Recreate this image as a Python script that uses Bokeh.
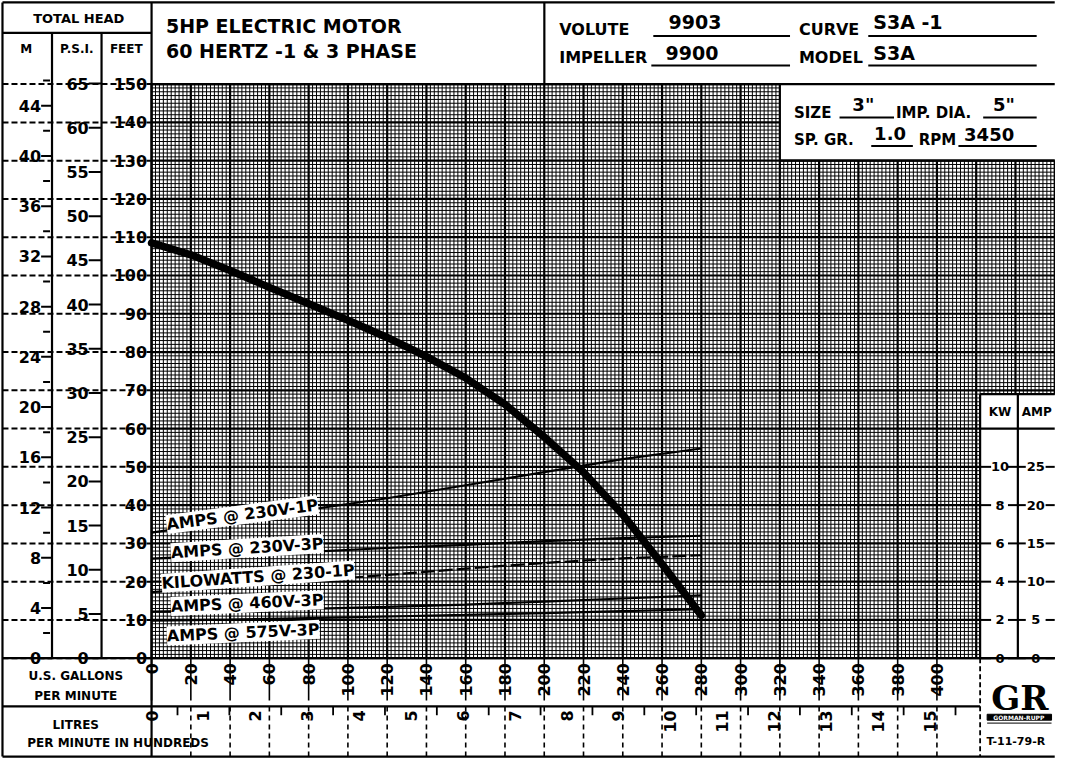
import math
from bokeh.plotting import figure
from bokeh.models import Range1d, ColumnDataSource, Label
from bokeh.core.properties import value
from bokeh.embed import file_html
from bokeh.resources import INLINE

# ---------------- data ----------------
head_gpm = [0, 20, 40, 60, 80, 100, 120, 140, 160, 180, 200, 220, 240, 260, 280]
head_ft = [108.5, 105.4, 101.3, 96.9, 92.6, 88.3, 83.8, 78.8, 73.2, 66.3, 57.8, 48.6, 37.5, 24.6, 11.2]

load_gpm = [0, 40, 80, 120, 160, 200, 240, 280]
amps_230v_1p = [16.4, 17.9, 19.4, 20.9, 22.6, 24.3, 26.0, 27.4]
amps_230v_3p = [13.0, 13.5, 13.9, 14.4, 14.8, 15.3, 15.7, 16.0]
kw_230_1p = [3.45, 3.75, 4.05, 4.35, 4.68, 4.98, 5.22, 5.38]
amps_460v_3p = [6.1, 6.25, 6.45, 6.7, 7.0, 7.4, 7.8, 8.2]
amps_575v_3p = [4.9, 5.05, 5.25, 5.45, 5.65, 5.9, 6.15, 6.4]

feet_ticks = list(range(0, 151, 10))
psi_ticks = list(range(0, 66, 5))
m_ticks = list(range(0, 45, 4))
m_minor_ticks = list(range(2, 47, 4))
gpm_ticks = list(range(0, 401, 20))
lpm_hundreds_ticks = list(range(0, 16))
kw_ticks = [0, 2, 4, 6, 8, 10]
amp_ticks = [0, 5, 10, 15, 20, 25]

FT_PER_PSI = 2.31
FT_PER_M = 1 / 0.3048
GPM_PER_100LPM = 100 / 3.78541
FT_PER_AMP = 2.0
FT_PER_KW = 5.0

INK = "#000000"
FONT = "DejaVu Sans"

# ---------------- page geometry helpers (reference px -> data) ----------------
GX0, GXS = 158.5, 1.982
FY0, FYS = 673.0, 3.893


def X(px):
    return (px - GX0) / GXS


def Y(py):
    return (FY0 - py) / FYS


GPM_MAX = 422      # right edge of the lower grid
GPM_EDGE = 460     # right edge of the page
FT_MAX = 150
BOX_GPM = 320      # left edge of the SIZE box
BOX_FT = 130       # bottom of the SIZE box
KW_TOP = 69
KW_HEAD = 60

p = figure(width=1055, height=758,
           x_range=Range1d(X(6), X(1071)), y_range=Range1d(Y(775), Y(4)),
           output_backend="svg", toolbar_location=None,
           x_axis_type=None, y_axis_type=None, min_border=0,
           outline_line_color=None, background_fill_color="white",
           border_fill_color="white")


def segs(x0, y0, x1, y1, width, dash="solid", color=INK):
    p.segment(x0=list(x0), y0=list(y0), x1=list(x1), y1=list(y1),
              line_width=width, line_color=color, line_dash=dash)


def text(xs, ys, texts, size, align="center", baseline="middle", angle=0.0,
         font=FONT, style="bold", color=INK):
    src = ColumnDataSource(dict(x=list(xs), y=list(ys), t=[str(t) for t in texts]))
    p.text(x="x", y="y", text="t", source=src, text_font=value(font),
           text_font_size=f"{size}px", text_font_style=style, text_align=align,
           text_baseline=baseline, angle=angle, text_color=color)


# ---------------- graph paper ----------------
def top_of(g):
    return FT_MAX if g <= BOX_GPM else BOX_FT


def right_of(f):
    if f < KW_TOP:
        return GPM_MAX
    if f <= BOX_FT:
        return GPM_EDGE
    return BOX_GPM


mx0, my0, mx1, my1 = [], [], [], []
Mx0, My0, Mx1, My1 = [], [], [], []
for g in range(0, GPM_MAX + 1, 2):
    tgt = (Mx0, My0, Mx1, My1) if g % 20 == 0 else (mx0, my0, mx1, my1)
    tgt[0].append(g); tgt[1].append(0); tgt[2].append(g); tgt[3].append(top_of(g))
for g in range(GPM_MAX + 2, GPM_EDGE + 1, 2):
    tgt = (Mx0, My0, Mx1, My1) if g % 20 == 0 else (mx0, my0, mx1, my1)
    tgt[0].append(g); tgt[1].append(KW_TOP); tgt[2].append(g); tgt[3].append(BOX_FT)
for f in range(0, FT_MAX + 1):
    tgt = (Mx0, My0, Mx1, My1) if f % 10 == 0 else (mx0, my0, mx1, my1)
    tgt[0].append(0); tgt[1].append(f); tgt[2].append(right_of(f)); tgt[3].append(f)
segs(mx0, my0, mx1, my1, 1.0)
segs(Mx0, My0, Mx1, My1, 2.2)

# ---------------- frame / boxes ----------------
hx0 = [X(8), X(8), 0, X(8), X(8), X(8), GPM_MAX, BOX_GPM, GPM_MAX, GPM_MAX]
hy0 = [Y(6), Y(37), FT_MAX, 0, Y(722), Y(773), KW_TOP, BOX_FT, KW_HEAD, 0]
hx1 = [GPM_EDGE, 0, GPM_EDGE, GPM_EDGE, GPM_MAX, GPM_EDGE, GPM_EDGE, GPM_EDGE, GPM_EDGE, GPM_EDGE]
segs(hx0, hy0, hx1, hy0, 2.2)
vx = [X(8), X(58), X(108), 0, X(555), GPM_MAX, X(1033)]
vy0 = [Y(6), Y(37), Y(37), Y(6), Y(6), 0, 0]
vy1 = [Y(773), 0, 0, Y(773), FT_MAX, KW_TOP, KW_TOP]
segs(vx, vy0, vx, vy1, 2.2)
# dashed separator under the logo column
segs([GPM_MAX], [0], [GPM_MAX], [Y(773)], 1.8, dash="5 3")

# ---------------- left scales ----------------
segs([X(8)] * len(feet_ticks), feet_ticks, [0] * len(feet_ticks), feet_ticks, 2.0, dash="6 3")

m_ft = [m * FT_PER_M for m in m_ticks]
segs([X(47)] * len(m_ft), m_ft, [X(58)] * len(m_ft), m_ft, 2.0)
mm_ft = [m * FT_PER_M for m in m_minor_ticks]
segs([X(49)] * len(mm_ft), mm_ft, [X(56)] * len(mm_ft), mm_ft, 2.0)
text([X(47)] * len(m_ft), m_ft, m_ticks, 16, align="right")

psi_ft = [s * FT_PER_PSI for s in psi_ticks]
segs([X(95)] * len(psi_ft), psi_ft, [X(108)] * len(psi_ft), psi_ft, 2.0)
text([X(95)] * len(psi_ft), psi_ft, psi_ticks, 16, align="right")

text([X(154)] * len(feet_ticks), feet_ticks, feet_ticks, 16, align="right")

text([X(85)], [Y(22)], ["TOTAL HEAD"], 13)
text([X(32), X(83), X(133)], [Y(53)] * 3, ["M", "P.S.I.", "FEET"], 12)

# ---------------- bottom scales ----------------
segs(gpm_ticks, [0] * len(gpm_ticks), gpm_ticks, [Y(716)] * len(gpm_ticks), 1.6)
text(gpm_ticks, [Y(678)] * len(gpm_ticks), gpm_ticks, 16, align="right", angle=math.pi / 2)

dash_x = [g for g in gpm_ticks if g > 0]
segs(dash_x, [Y(722)] * len(dash_x), dash_x, [Y(773)] * len(dash_x), 1.6, dash="5 4")
lpm_x = [h * GPM_PER_100LPM for h in lpm_hundreds_ticks]
half_x = [(h + 0.5) * GPM_PER_100LPM for h in lpm_hundreds_ticks]
segs(half_x, [Y(722)] * len(half_x), half_x, [Y(731)] * len(half_x), 1.8)
text(lpm_x, [Y(726)] * len(lpm_x), lpm_hundreds_ticks, 16, align="right", angle=math.pi / 2)

text([X(82), X(82)], [Y(691), Y(711)], ["U.S. GALLONS", "PER MINUTE"], 12)
text([X(82)], [Y(741)], ["LITRES"], 12)
text([X(33)], [Y(759)], ["PER MINUTE IN HUNDREDS"], 12, align="left")

# ---------------- right scales (KW / AMP) ----------------
kw_ft = [k * FT_PER_KW for k in kw_ticks]
amp_ft = [a * FT_PER_AMP for a in amp_ticks]
segs([GPM_MAX] * len(kw_ft), kw_ft, [X(1006)] * len(kw_ft), kw_ft, 2.0)
segs([X(1023)] * len(kw_ft), kw_ft, [X(1033)] * len(kw_ft), kw_ft, 2.0)
segs([X(1033)] * len(amp_ft), amp_ft, [X(1041)] * len(amp_ft), amp_ft, 2.0)
segs([X(1061)] * len(amp_ft), amp_ft, [GPM_EDGE] * len(amp_ft), amp_ft, 2.0)
text([X(1015)] * len(kw_ft), kw_ft, kw_ticks, 13)
text([X(1051)] * len(amp_ft), amp_ft, amp_ticks, 13)
text([X(1015), X(1052)], [Y(423)] * 2, ["KW", "AMP"], 12)

# ---------------- header texts ----------------
text([X(173), X(173)], [Y(30), Y(55)], ["5HP ELECTRIC MOTOR", "60 HERTZ -1 & 3 PHASE"], 19, align="left")

text([X(570), X(812), X(570), X(812)], [Y(33), Y(33), Y(62), Y(62)],
     ["VOLUTE", "CURVE", "IMPELLER", "MODEL"], 16, align="left")
text([X(707), X(704)], [Y(26), Y(57)], ["9903", "9900"], 19)
text([X(887), X(887)], [Y(26), Y(57)], ["S3A -1", "S3A"], 19, align="left")
segs([X(665), X(882), X(663), X(882)], [Y(40), Y(40), Y(70), Y(70)],
     [X(803), X(1052), X(803), X(1052)], [Y(40), Y(40), Y(70), Y(70)], 2.0)

text([X(807), X(910), X(807), X(933)], [Y(118), Y(118), Y(146), Y(146)],
     ["SIZE", "IMP. DIA.", "SP. GR.", "RPM"], 15, align="left")
text([X(877), X(1019), X(904), X(1004)], [Y(110), Y(110), Y(139), Y(140)],
     ['3"', '5"', "1.0", "3450"], 18)
segs([X(853), X(998), X(885), X(973)], [Y(123), Y(123), Y(152), Y(152)],
     [X(908), X(1052), X(927), X(1052)], [Y(123), Y(123), Y(152), Y(152)], 2.0)

# ---------------- logo ----------------
text([X(1035)], [Y(713)], ["GR"], 34, font="DejaVu Serif")
p.quad(left=[X(1002)], right=[X(1067)], bottom=[Y(736)], top=[Y(730)], color=INK)
text([X(1034)], [Y(733)], ["GORMAN-RUPP"], 6, color="white")
segs([X(1002)], [Y(739)], [X(1067)], [Y(739)], 1.0)
text([X(1031)], [Y(758)], ["T-11-79-R"], 11)

# ---------------- curves ----------------
p.line(load_gpm, [a * FT_PER_AMP for a in amps_230v_1p], line_width=2.2, line_color=INK)
p.line(load_gpm, [a * FT_PER_AMP for a in amps_230v_3p], line_width=2.2, line_color=INK)
p.line(load_gpm, [k * FT_PER_KW for k in kw_230_1p], line_width=2.2, line_color=INK, line_dash="14 4")
p.line(load_gpm, [a * FT_PER_AMP for a in amps_460v_3p], line_width=2.2, line_color=INK)
p.line(load_gpm, [a * FT_PER_AMP for a in amps_575v_3p], line_width=2.2, line_color=INK)
p.line(head_gpm, head_ft, line_width=7.5, line_color=INK, line_cap="round", line_join="round")

curve_labels = [
    ("AMPS @ 230V-1P", 250, 527, 7.5),
    ("AMPS @ 230V-3P", 255, 561, 3.5),
    ("KILOWATTS @ 230-1P", 266, 590, 4.0),
    ("AMPS @ 460V-3P", 255, 617, 2.5),
    ("AMPS @ 575V-3P", 251, 647, 2.5),
]
for t, cx, cy, ang in curve_labels:
    p.add_layout(Label(x=X(cx), y=Y(cy), text=t, angle=math.radians(ang),
                       text_align="center", text_baseline="middle", text_font=FONT,
                       text_font_size="16px", text_font_style="bold", text_color=INK,
                       background_fill_color="white"))

open("out.html", "w").write(file_html(p, INLINE))
